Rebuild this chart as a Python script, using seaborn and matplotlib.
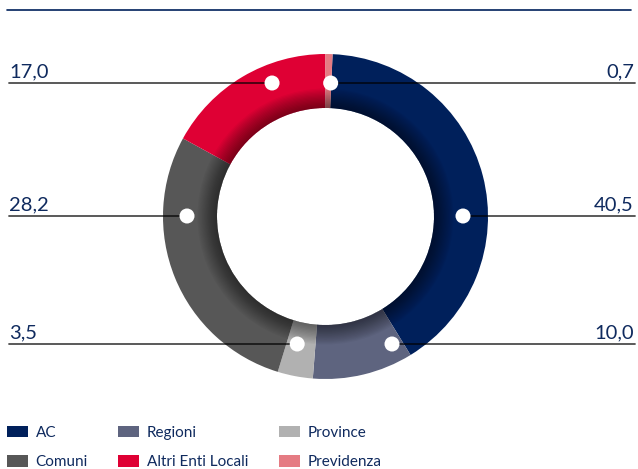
import numpy as np
import matplotlib
matplotlib.use("Agg")
import matplotlib.pyplot as plt
from matplotlib.patches import Wedge, Circle
import seaborn as sns

# Data
categories = ["AC", "Regioni", "Province", "Comuni", "Altri Enti Locali", "Previdenza"]
values = [40.5, 10.0, 3.5, 28.2, 17.0, 0.7]
colors = ["#00205b", "#5e647f", "#b1b1b1", "#575757", "#df0034", "#e57b83"]

# Label layout (pixel rows, side of the chart, radius of the white dot)
label_side = ["right", "right", "left", "left", "left", "right"]
label_row = [216, 344, 344, 216, 83, 83]
dot_radius = [137.5, 143.8, 130.6, 138.5, 143.8, 133.6]

text_color = "#0f2a5e"
cx, cy = 325.5, 216.5
r_out, ring_w = 162.5, 54.0

sns.set_theme(style="white")
plt.rcParams["font.family"] = ["Lato", "DejaVu Sans"]
palette = sns.color_palette(colors)

fig = plt.figure(figsize=(6.38, 4.69), dpi=100)
ax = fig.add_axes([0, 0, 1, 1])

# donut (y axis points down, so counterclock=True turns clockwise on screen)
wedges, _ = ax.pie(values, colors=palette, startangle=-87.5, counterclock=True,
                   radius=r_out, center=(cx, cy),
                   wedgeprops=dict(width=ring_w, linewidth=0))
ax.set_xlim(0, 638)
ax.set_ylim(469, 0)
ax.set_aspect("auto")
ax.axis("off")

# soft inner shadow
r_in = r_out - ring_w
for k in range(1, 16):
    ax.add_patch(Wedge((cx, cy), r_in + k * 1.3, 0, 360, width=k * 1.3,
                       facecolor="black", alpha=0.035, linewidth=0))

# top rule
ax.plot([7, 631], [10, 10], color="#00205b", lw=1.2)

# leader lines, dots and values
for val, side, row, rd in zip(values, label_side, label_row, dot_radius):
    dx = np.sqrt(max(rd ** 2 - (row - cy) ** 2, 0))
    x_dot = cx + dx if side == "right" else cx - dx
    txt = f"{val:.1f}".replace(".", ",")
    if side == "right":
        ax.plot([x_dot, 635], [row, row], color="black", alpha=0.7, lw=1.3, zorder=3)
        ax.text(634, row - 6, txt, ha="right", va="baseline", fontsize=14.5,
                color=text_color, zorder=5)
    else:
        ax.plot([9, x_dot], [row, row], color="black", alpha=0.7, lw=1.3, zorder=3)
        ax.text(9, row - 6, txt, ha="left", va="baseline", fontsize=14.5,
                color=text_color, zorder=5)
    ax.add_patch(Circle((x_dot, row), 7.5, facecolor="white", linewidth=0, zorder=4))

# legend, row-major look with column-major filling
order = [0, 3, 1, 4, 2, 5]
leg = ax.legend([wedges[i] for i in order], [categories[i] for i in order],
                ncol=3, frameon=False, loc="upper left",
                bbox_to_anchor=(7, 426), bbox_transform=ax.transData,
                borderaxespad=0, borderpad=0, fontsize=11,
                handlelength=1.37, handleheight=0.78, handletextpad=0.5,
                columnspacing=2.0, labelspacing=1.0)
for t in leg.get_texts():
    t.set_color(text_color)

fig.savefig("out.png", dpi=100)
